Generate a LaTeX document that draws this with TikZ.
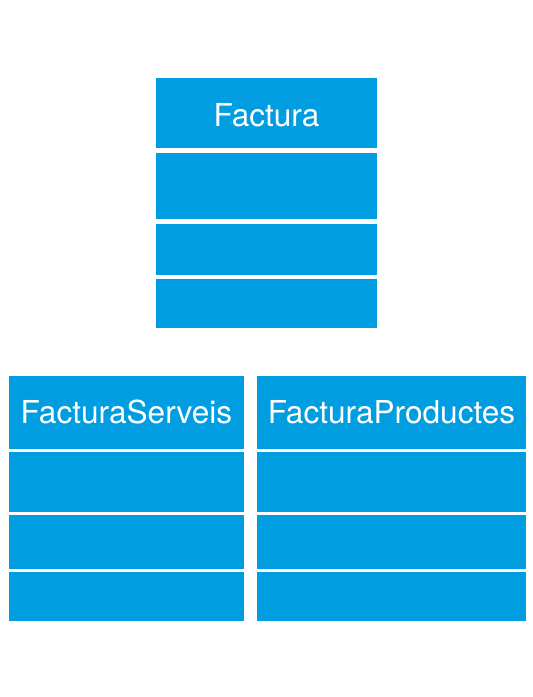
\documentclass[tikz,border=0pt]{standalone}
\usepackage{fontspec}
\setmainfont{TeX Gyre Heros}
\definecolor{umlblue}{RGB}{0,158,224}
\begin{document}
\begin{tikzpicture}[x=1pt,y=-1pt,
  row/.style={rectangle, fill=umlblue, draw=none, inner sep=0pt, outer sep=0pt},
  head/.style={row, text=white, font=\fontsize{31.6}{38}\selectfont, text height=22.5pt, text depth=0pt}]
\useasboundingbox[fill=white] (0,0) rectangle (533,697);
% Factura
\node[head, text height=27pt, minimum width=221pt, minimum height=70pt] (fh) at (266.5,113) {Factura};
\node[row, minimum width=221pt, minimum height=66pt] (fa) at (266.5,186) {};
\node[row, minimum width=221pt, minimum height=51pt] (fm) at (266.5,249.5) {};
\node[row, minimum width=221pt, minimum height=49pt] (fx) at (266.5,303.5) {};
% FacturaServeis
\node[head, minimum width=235pt, minimum height=73pt] (sh) at (126.5,412.5) {FacturaServeis};
\node[row, minimum width=235pt, minimum height=60pt] (sa) at (126.5,482) {};
\node[row, minimum width=235pt, minimum height=54pt] (sm) at (126.5,542) {};
\node[row, minimum width=235pt, minimum height=49pt] (sx) at (126.5,596.5) {};
% FacturaProductes
\node[head, minimum width=269pt, minimum height=73pt] (ph) at (391.5,412.5) {FacturaProductes};
\node[row, minimum width=269pt, minimum height=60pt] (pa) at (391.5,482) {};
\node[row, minimum width=269pt, minimum height=54pt] (pm) at (391.5,542) {};
\node[row, minimum width=269pt, minimum height=49pt] (px) at (391.5,596.5) {};
\end{tikzpicture}
\end{document}
